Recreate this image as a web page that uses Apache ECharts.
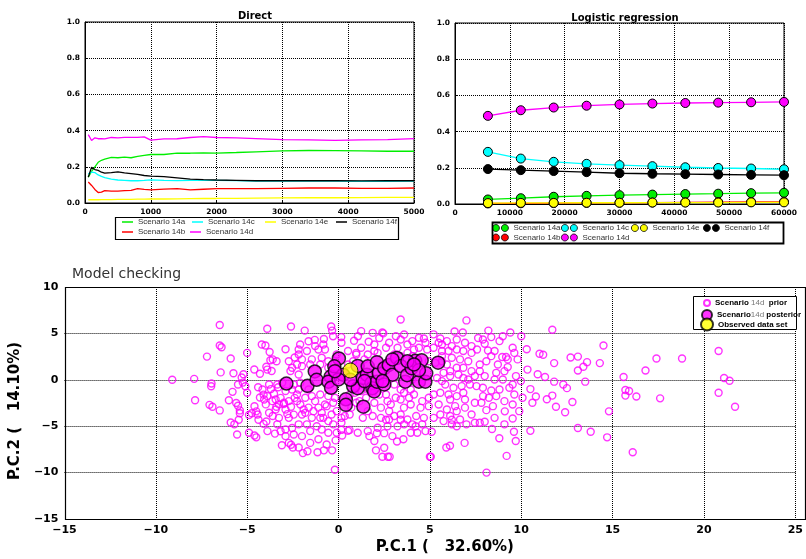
<!DOCTYPE html>
<html><head><meta charset="utf-8">
<script src="https://cdn.jsdelivr.net/npm/echarts@6/dist/echarts.min.js"></script>
<style>html,body{margin:0;padding:0;background:#fff}#c{width:806px;height:559px}</style>
</head><body><div id="c"></div>
<script>
// ---------- Direct ----------
const directX = [50,100,150,200,250,300,400,500,600,700,800,900,1000,1200,1400,1600,1800,2000,2300,2600,3000,3400,3800,4200,4600,5000];
const direct14a = [0.143,0.175,0.200,0.225,0.236,0.242,0.252,0.250,0.253,0.250,0.258,0.263,0.268,0.268,0.275,0.275,0.277,0.276,0.279,0.283,0.288,0.290,0.289,0.288,0.286,0.286];
const direct14b = [0.116,0.097,0.075,0.058,0.060,0.068,0.066,0.066,0.068,0.070,0.079,0.075,0.073,0.077,0.079,0.073,0.076,0.079,0.079,0.079,0.081,0.083,0.083,0.081,0.081,0.083];
const direct14c = [0.161,0.171,0.168,0.155,0.147,0.140,0.132,0.127,0.125,0.123,0.123,0.125,0.128,0.125,0.124,0.125,0.125,0.125,0.124,0.121,0.121,0.121,0.121,0.119,0.119,0.121];
const direct14d = [0.378,0.345,0.360,0.355,0.356,0.354,0.362,0.360,0.363,0.363,0.363,0.365,0.347,0.354,0.355,0.362,0.367,0.362,0.360,0.356,0.350,0.349,0.346,0.349,0.350,0.356];
const direct14e = [0.018,0.018,0.018,0.018,0.019,0.019,0.019,0.020,0.020,0.020,0.021,0.021,0.022,0.022,0.023,0.024,0.025,0.025,0.026,0.027,0.028,0.029,0.029,0.030,0.031,0.031];
const direct14f = [0.143,0.198,0.185,0.180,0.170,0.165,0.168,0.172,0.166,0.162,0.158,0.152,0.149,0.146,0.139,0.132,0.129,0.127,0.125,0.123,0.123,0.123,0.123,0.122,0.123,0.123];
// ---------- Logistic regression ----------
const logX = [6000,12000,18000,24000,30000,36000,42000,48000,54000,60000];
const log14a = [0.025,0.032,0.040,0.045,0.049,0.052,0.055,0.057,0.060,0.062];
const log14b = [0.003,0.004,0.005,0.006,0.007,0.008,0.009,0.010,0.011,0.012];
const log14c = [0.288,0.251,0.233,0.222,0.215,0.209,0.203,0.199,0.196,0.192];
const log14d = [0.487,0.518,0.533,0.543,0.550,0.555,0.558,0.560,0.562,0.564];
const log14e = [0.005,0.006,0.006,0.007,0.007,0.008,0.008,0.008,0.009,0.009];
const log14f = [0.193,0.187,0.182,0.176,0.170,0.167,0.165,0.163,0.161,0.159];
const scenarioNames = ['Scenario 14a','Scenario 14b','Scenario 14c','Scenario 14d','Scenario 14e','Scenario 14f'];
// ---------- Model checking ----------
const priorPts = [
[7.0,6.4],[6.35,5.2],[6.8,5.1],[8.2,5.3],[9.4,5.1],[10.0,4.7],[11.7,5.4],[10.3,3.3],[11.0,2.8],[11.2,2.7],[11.8,1.8],[12.7,2.4],[13.1,2.5],[13.6,1.9],[14.5,3.7],[14.3,1.8],[13.4,1.4],[13.1,1.0],[10.9,0.6],[11.3,0.3],[11.8,-0.2],[12.3,-0.5],[12.5,-0.9],[13.5,-0.2],[10.5,-1.0],[10.8,-1.8],[11.4,-2.1],[11.7,-1.7],[11.9,-2.9],[12.4,-3.5],[12.8,-2.4],[14.8,-3.4],[13.1,-5.2],[13.8,-5.6],[10.5,-5.5],[14.7,-6.2],[15.6,0.3],[15.7,-1.1],[15.9,-1.2],[15.7,-1.7],[16.3,-1.8],[16.8,1.0],[17.4,2.3],[17.6,-2.0],[18.8,2.3],[20.8,3.1],[21.1,0.2],[21.4,-0.1],[20.8,-1.4],[21.7,-2.9],[16.1,-7.8],[8.1,-10.0],[9.2,-8.2],[8.8,-6.3],[5.05,-8.3],[6.9,-6.8],[5.9,-7.3],[6.1,-7.1],[9.7,-6.6],[9.6,-5.6],[8.4,-5.3],[9.1,-3.4],
[-9.1,0.0],[-7.9,0.1],[-7.85,-2.2],[-7.2,2.5],[-6.95,-0.4],[-6.97,-0.7],[-7.06,-2.7],[-6.9,-2.9],[-6.5,-3.3],[-6.5,5.9],[-6.5,3.7],[-6.4,3.5],[-6.45,0.8],[-5.9,2.3],[-5.75,0.7],[-6.0,-2.2],[-5.9,-4.6],[-5.7,-4.8],[-5.55,-5.9],[-5.6,-2.5],[-5.5,-2.8],[-5.4,-3.6],[-5.4,-3.3],[-5.8,-1.3],[-5.3,0.25],[-5.2,0.6],[-5.0,2.9],[-5.0,-1.4],[-4.9,-5.7],[-4.6,-6.0],[-4.5,-6.2],[-4.9,-3.8],[-4.75,-3.6],[-4.4,-0.8],[-4.3,-1.9],[-4.5,-3.4],[-4.2,3.8],[-4.0,3.7],[-3.9,5.5],[-4.3,0.65],[-3.95,1.4],[-3.9,1.1],[-4.1,-4.75],[-3.95,-4.5],[-3.6,2.2],[-3.1,-7.05],[-2.6,-7.0],[-2.5,-7.3],[-2.9,3.3],[-2.6,5.75],[-1.95,-7.9],[-1.7,-7.7],[-1.15,-7.8],[-0.8,-7.6],[-0.35,-7.6],[-0.2,-9.7],[-1.85,5.3],[-1.3,4.3],[-0.8,4.4],[-0.35,5.3],[-0.4,5.75],[-0.3,4.7],[0.15,4.6],[0.85,4.2],[1.65,4.1],[2.4,5.1],[2.45,5.0],[3.4,6.5],[0.2,-6.0],[0.15,-5.4],[0.6,-5.4],[1.05,-5.7],[2.05,-7.6],[2.4,-8.3],[2.7,-8.3],[2.8,-8.3],[3.2,-6.65],[3.55,-6.4],[5.0,-8.3],[3.4,-4.3],[4.25,-3.9],[5.1,-5.6],[2.1,-5.75],[2.5,-5.75],[2.6,-4.3],[6.2,-4.3],
[-3.77,3.0],[-3.39,2.0],[-3.73,2.1],[-3.66,0.95],[-2.54,1.3],[-2.72,2.0],[-2.4,2.4],[-2.63,0.95],[-5.24,-0.3],[-5.5,-0.5],[-5.1,-0.7],[-4.16,-1.05],[-3.9,-1.75],[-3.53,-1.5],[-3.17,-1.95],[-2.9,-1.2],[-2.54,-1.05],[-3.62,-2.3],[-3.98,-2.65],[-3.26,-2.65],[-2.72,-2.3],[-2.4,-1.95],[-4.6,-2.85],[-3.8,-3.55],[-3.44,-3.2],[-2.9,-3.2],[-2.45,-3.75],[-4.38,-4.3],[-3.26,-4.1],[-2.72,-4.1],[-5.46,-4.3],[-3.48,-5.8],[-3.17,-5.55],[-2.9,-5.35],[-2.54,-5.2],[-2.72,-6.8],[-3.8,-0.5],[-2.45,-0.5],[-3.7,-1.0],[-3.3,-0.8],[-4.1,-1.6],[-3.4,-2.9],[-3.0,-2.6],[-2.6,-2.9],[-3.6,-3.9],[-2.8,-3.7],
[0.16,4.0],[-1.64,4.15],[-2.1,3.8],[-1.1,3.27],[-0.74,3.27],[-1.73,3.1],[-2.18,2.73],[-1.46,2.2],[-0.92,2.37],[-0.56,2.0],[0.52,3.1],[0.8,2.0],[-2.0,1.47],[-2.18,0.57],[-1.82,-1.94],[-2.09,-2.66],[-1.46,-1.76],[-1.0,-1.58],[-0.56,-1.76],[-0.2,-1.94],[-1.64,-3.0],[-1.1,-3.0],[-0.65,-2.84],[-0.1,-3.38],[-2.0,-3.74],[-1.46,-4.1],[-1.0,-4.1],[-0.56,-4.45],[-1.73,-4.8],[-1.19,-5.0],[-0.56,-5.7],[-0.1,-5.7],[-2.0,-6.07],[-1.55,-6.8],[-1.1,-6.4],[-0.65,-6.97],[-0.16,-6.53],[-2.18,-7.3],[0.52,-5.5],[0.61,-3.74],[0.34,-3.9],[0.7,-3.0],[-2.09,-0.32],[-2.18,-1.04],[-1.64,-1.04],[0.88,-1.4],[0.61,-1.58],[0.97,-2.48],[-0.74,-2.66],[-1.28,-2.3],[-2.27,-1.58],[-0.29,-2.48],[-0.92,-3.56],[0.16,-4.1],[-0.38,-3.74],[-1.82,-3.56],[0.52,1.65],[0.97,2.73],[-2.0,2.2],[-2.27,1.65],
[2.23,4.5],[1.24,3.45],[1.96,3.8],[2.77,4.0],[3.4,4.35],[3.77,3.8],[4.04,4.17],[3.23,3.45],[3.77,2.9],[4.13,3.27],[3.05,2.73],[3.4,-2.12],[3.86,-1.94],[3.13,-1.94],[2.68,-2.3],[1.96,-2.48],[2.32,-3.0],[1.15,-2.3],[1.87,-3.9],[1.33,-4.1],[3.05,-3.9],[3.4,-3.74],[3.77,-4.27],[4.04,-4.8],[3.23,-5.0],[2.68,-5.0],[2.14,-5.17],[1.6,-5.53],[1.96,-6.6],[2.5,-7.33],[2.23,-1.58],[2.6,-1.58],[3.95,-2.66],[0.97,-0.86],[1.6,-1.04],[3.4,-1.04],[3.95,-1.04],[0.97,2.9],[1.6,2.73],[2.14,2.9],[4.04,0.04],[3.05,-0.5],[4.13,-1.58],[3.58,-1.4],[1.24,-1.22],[1.87,-1.4],[2.86,-2.66],[3.58,-3.0],
[5.2,4.9],[4.67,4.45],[5.57,4.45],[5.48,4.0],[5.93,4.17],[6.47,4.35],[6.92,4.0],[4.4,3.45],[4.85,3.27],[5.2,3.45],[5.66,3.1],[6.02,3.1],[6.47,3.27],[7.28,2.9],[6.2,2.37],[6.65,2.2],[7.1,2.0],[5.93,1.65],[6.47,1.3],[7.28,0.93],[5.75,0.75],[6.11,0.4],[6.83,0.2],[5.39,0.2],[5.84,-0.5],[6.29,-0.86],[6.74,-0.68],[7.19,-0.5],[5.57,-1.4],[6.02,-1.58],[6.47,-1.76],[6.92,-2.12],[4.94,-1.94],[4.49,-3.0],[4.94,-2.84],[5.48,-2.66],[5.93,-3.2],[6.38,-2.84],[6.92,-3.0],[7.28,-3.74],[5.57,-3.74],[6.11,-3.9],[6.65,-4.27],[4.67,-4.1],[4.22,-5.0],[4.58,-4.8],[6.47,-5.0],[7.0,-4.8],[4.94,2.0],[5.66,2.0],
[7.64,4.5],[7.9,4.35],[8.36,4.6],[8.99,4.7],[8.0,3.88],[7.58,3.27],[8.18,3.16],[8.81,4.17],[9.53,3.45],[9.62,2.9],[9.8,2.2],[9.17,2.45],[8.96,2.45],[8.36,2.55],[9.26,1.37],[10.34,1.1],[7.73,0.93],[8.63,0.75],[9.08,0.93],[9.71,0.4],[7.46,0.4],[8.0,0.4],[8.54,0.04],[9.53,-0.5],[9.98,-0.14],[7.55,-0.68],[7.9,-0.86],[8.36,-1.15],[8.23,-1.94],[8.63,-1.76],[9.62,-1.58],[10.61,-2.48],[7.46,-2.48],[7.82,-2.48],[8.45,-2.84],[9.53,-2.66],[8.09,-3.27],[9.53,-4.17],[7.46,-4.63],[7.73,-4.63],[8.0,-4.52],
[-1.28,3.63],[-0.83,3.8],[-2.18,3.27],[-1.55,1.65],[-1.0,1.65],[-0.56,1.3],[-0.1,2.73],[-2.27,-2.3],[-1.91,-3.2],[-1.37,-3.38],[-0.83,-4.1],[-0.29,-4.8],[-1.55,-5.53],[-0.92,-5.35],[0.16,-4.63],[-2.18,-4.8],
[1.24,5.24],[1.06,4.7],[1.87,5.06],[3.14,4.7],[3.59,4.88],[2.6,3.45],[1.96,3.1],[1.42,2.2],[3.4,2.55],[4.04,2.55],[1.51,-1.94],[2.77,-3.38],[1.6,-3.38],[2.32,-4.1],[2.77,-4.27],[3.59,-4.8],[3.95,-5.7],[1.69,-6.07],[2.95,-6.07],
[4.4,4.53],[4.76,4.0],[5.66,3.8],[6.2,3.63],[7.28,3.63],[6.83,3.1],[5.66,2.55],[5.3,1.83],[6.83,1.3],[6.11,0.93],[6.56,0.57],[7.1,0.04],[5.66,-0.14],[6.83,-1.4],[6.11,-2.12],[5.21,-1.58],[4.58,-2.3],[6.47,-3.38],[5.21,-4.1],[5.75,-4.45],[6.2,-4.8],[4.31,-5.7],[4.76,-5.53],
[-4.61,1.11],[-3.35,-0.5],[-3.08,-0.32],[-3.44,-2.12],[-2.99,-2.48],[-4.07,-2.12],[-4.43,-3.74],[-3.35,-4.8],[-3.89,-5.53],[-2.9,-6.07],[-2.45,-5.9],
[8.54,3.1],[9.26,2.2],[8.72,1.65],[8.09,2.0],[7.73,1.65],[8.99,0.04],[9.35,-0.86],[8.81,-1.04],[7.91,-1.76],[9.08,-2.3],[10.07,-1.94],[9.89,-3.38],[8.54,-4.1],[9.08,-4.8]
];
const posteriorPts = [
[-2.85,-0.4],[-1.7,-0.65],[-1.3,0.9],[-1.2,0.0],[-0.43,0.35],[0.02,2.3],[-0.23,1.45],[-0.55,-0.2],[0.25,0.55],[0.4,-2.1],[0.4,-2.7],[1.36,-2.9],[0.8,-0.7],[1.05,-0.9],[0.65,0.0],[1.05,1.5],[1.33,0.2],[1.55,0.55],[1.6,1.45],[1.8,-0.35],[1.85,-0.9],[1.95,-1.25],[2.1,-0.2],[2.2,0.7],[2.1,1.9],[2.5,1.25],[2.75,1.6],[2.95,0.55],[3.2,2.35],[3.4,1.5],[3.65,-0.2],[3.75,0.5],[4.0,1.25],[4.2,2.05],[4.4,-0.2],[4.75,-0.2],[4.55,2.1],[4.8,0.7],[5.45,1.85],[4.4,1.04],
[-0.41,-0.86],[0.0,0.04],[-0.2,0.93],[1.42,-0.14],[2.95,2.2],[3.77,2.0],[4.13,1.65],[2.5,-0.5],[2.41,-0.14]
];
const observedPts = [[0.65,1.0]];
const pcLabels = {x: 'P.C.1 (   32.60%)', y: 'P.C.2 (   14.10%)'};

const FONT = 'DejaVu Sans';
const LFONT = 'Liberation Sans';
const colors = {a:'#00ee00', b:'#ff0000', c:'#00ffff', d:'#ff00ff', e:'#ffff00', f:'#000000'};
const keys = ['a','b','c','d','e','f'];
const directData = {a:direct14a,b:direct14b,c:direct14c,d:direct14d,e:direct14e,f:direct14f};
const logData = {a:log14a,b:log14b,c:log14c,d:log14d,e:log14e,f:log14f};

function smallAxisLabel(){ return {fontFamily:FONT, fontWeight:'bold', fontSize:7.5, color:'#000', margin:5, formatter:v=>String(v)}; }
const dotted = {show:true, lineStyle:{type:'dotted', color:'#000', width:1}};

const series = [];
keys.forEach((k,i)=>{
  series.push({name:'D:'+scenarioNames[i], type:'line', xAxisIndex:0, yAxisIndex:0, symbol:'none',
    data: directX.map((x,j)=>[x, directData[k][j]]), lineStyle:{color:colors[k], width:1.3}, itemStyle:{color:colors[k]}, animation:false, z:3});
});
const logOrder = ['a','b','c','f','d','e'];
logOrder.forEach(k=>{
  const i = keys.indexOf(k);
  series.push({name:'L:'+scenarioNames[i], type:'line', xAxisIndex:1, yAxisIndex:1, symbol:'circle', symbolSize:9,
    data: logX.map((x,j)=>[x, logData[k][j]]), lineStyle:{color:colors[k], width:1.3},
    itemStyle:{color:colors[k], borderColor:'#000', borderWidth:1}, animation:false, z:3});
});
series.push({name:'prior', type:'scatter', xAxisIndex:2, yAxisIndex:2, symbol:'circle', symbolSize:7, data:priorPts,
  itemStyle:{color:'rgba(0,0,0,0)', borderColor:'#ff00ff', borderWidth:1.4}, animation:false, z:3});
series.push({name:'posterior', type:'scatter', xAxisIndex:2, yAxisIndex:2, symbol:'circle', symbolSize:13, data:posteriorPts,
  itemStyle:{color:'#ff00ff', borderColor:'#000', borderWidth:1.5}, animation:false, z:4});
series.push({name:'observed', type:'scatter', xAxisIndex:2, yAxisIndex:2, symbol:'circle', symbolSize:15, data:observedPts,
  itemStyle:{color:'#ffff00', borderColor:'#000', borderWidth:1}, animation:false, z:5});

// two-circle legend icon ("o-o")
function circ(cx,cy,r){const k=0.5523*r;return `M${cx-r},${cy}C${cx-r},${cy-k} ${cx-k},${cy-r} ${cx},${cy-r}C${cx+k},${cy-r} ${cx+r},${cy-k} ${cx+r},${cy}C${cx+r},${cy+k} ${cx+k},${cy+r} ${cx},${cy+r}C${cx-k},${cy+r} ${cx-r},${cy+k} ${cx-r},${cy}Z`;}
const twoDots = 'path://' + circ(3.5,3.5,3.5) + circ(12.5,3.5,3.5);

const legTxt = {fontFamily:LFONT, fontSize:8, color:'#333'};
function legD(name, left, top){
  const k = name.slice(-1);
  return {data:[{name:'D:'+name, icon:'rect', itemStyle:{color:colors[k], borderWidth:0}}], left:left, top:top, itemWidth:11, itemHeight:1.5, itemGap:0, padding:0,
    selectedMode:false, textStyle:legTxt, formatter:(n)=>n.slice(2)};
}
function legL(name, left, top){
  const k = name.slice(-1);
  return {data:[{name:'L:'+name, icon:twoDots, itemStyle:{color:colors[k], borderColor:'#000', borderWidth:0.8}}], left:left, top:top, itemWidth:16, itemHeight:7, itemGap:0, padding:0,
    selectedMode:false, textStyle:legTxt, formatter:(n)=>n.slice(2)};
}
const legends = [
  legD('Scenario 14a',122,218), legD('Scenario 14c',192,218), legD('Scenario 14e',265,218), legD('Scenario 14f',336,218),
  legD('Scenario 14b',122,228), legD('Scenario 14d',190,228),
  legL('Scenario 14a',492,224), legL('Scenario 14c',561,224), legL('Scenario 14e',631,224), legL('Scenario 14f',703,224),
  legL('Scenario 14b',492,233.5), legL('Scenario 14d',561,233.5)
];
const richLeg = {b:{fontFamily:LFONT, fontWeight:'bold', fontSize:8, color:'#000'}, g:{fontFamily:LFONT, fontSize:8, color:'#777'}};
legends.push({data:[{name:'prior', icon:'circle'}], left:703, top:299, itemWidth:6, itemHeight:6, padding:0, selectedMode:false,
  textStyle:{rich:richLeg}, formatter:()=>'{b|Scenario }{g|14d}{b|  prior}'});
legends.push({data:[{name:'posterior', icon:'circle'}], left:701, top:309, itemWidth:10, itemHeight:10, padding:0, selectedMode:false,
  textStyle:{rich:richLeg}, formatter:()=>'{b|Scenario}{g|14d}{b| posterior}'});
legends.push({data:[{name:'observed', icon:'circle'}], left:700, top:317.5, itemWidth:12, itemHeight:12, padding:0, selectedMode:false,
  textStyle:{rich:richLeg}, formatter:()=>'{b|Observed data set}'});

const minus = v => String(v).replace('-', '\u2212');
const bigLabel = {fontFamily:FONT, fontWeight:'bold', fontSize:11, color:'#000', margin:6, formatter:minus};

const option = {
  backgroundColor:'#fff',
  animation:false,
  title:[
    {text:'Direct', left:250, top:6, textAlign:'center', textStyle:{fontFamily:FONT, fontWeight:'bold', fontSize:10, color:'#000'}},
    {text:'Logistic regression', left:620, top:8, textAlign:'center', textStyle:{fontFamily:FONT, fontWeight:'bold', fontSize:10, color:'#000'}},
    {text:'Model checking', left:67, top:262, textStyle:{fontFamily:FONT, fontWeight:'normal', fontSize:14, color:'#333'}}
  ],
  legend: legends,
  grid:[
    {left:85, top:22, width:329, height:181, show:true, borderColor:'#000', borderWidth:1},
    {left:455, top:23, width:329, height:181, show:true, borderColor:'#000', borderWidth:1},
    {left:56, top:287, width:740, height:232, show:false}
  ],
  xAxis:[
    {type:'value', gridIndex:0, min:0, max:5000, interval:1000, axisLine:{show:true, lineStyle:{color:'#000'}}, axisTick:{show:true, inside:true, length:3, lineStyle:{color:'#000'}}, axisLabel:smallAxisLabel(), splitLine:dotted},
    {type:'value', gridIndex:1, min:0, max:60000, interval:10000, axisLine:{show:true, lineStyle:{color:'#000'}}, axisTick:{show:true, inside:true, length:3, lineStyle:{color:'#000'}}, axisLabel:smallAxisLabel(), splitLine:dotted},
    {type:'value', gridIndex:2, min:-15, max:25, interval:5, axisLine:{show:false}, axisTick:{show:false}, axisLabel:bigLabel,
      splitLine:{show:true, showMinLine:false, lineStyle:{type:'dotted', color:'#000', width:1}},
      name:pcLabels.x, nameLocation:'middle', nameGap:21, nameTextStyle:{fontFamily:FONT, fontWeight:'bold', fontSize:15, color:'#000', padding:[0,0,0,30]}}
  ],
  yAxis:[
    {type:'value', gridIndex:0, min:0, max:1, interval:0.2, axisLine:{show:true, lineStyle:{color:'#000'}}, axisTick:{show:true, inside:true, length:3, lineStyle:{color:'#000'}}, axisLabel:Object.assign(smallAxisLabel(),{formatter:v=>v.toFixed(1)}), splitLine:dotted},
    {type:'value', gridIndex:1, min:0, max:1, interval:0.2, axisLine:{show:true, lineStyle:{color:'#000'}}, axisTick:{show:true, inside:true, length:3, lineStyle:{color:'#000'}}, axisLabel:Object.assign(smallAxisLabel(),{formatter:v=>v.toFixed(1)}), splitLine:dotted},
    {type:'value', gridIndex:2, min:-15, max:10, interval:5, axisLine:{show:false}, axisTick:{show:false}, axisLabel:bigLabel,
      splitLine:{show:true, showMinLine:false, showMaxLine:false, lineStyle:{type:'dotted', color:'#000', width:1}},
      name:pcLabels.y, nameLocation:'middle', nameGap:25, nameRotate:90, nameTextStyle:{fontFamily:FONT, fontWeight:'bold', fontSize:15, color:'#000', padding:[0,16,0,0]}}
  ],
  graphic:[
    {type:'rect', shape:{x:65.5, y:287.5, width:740, height:232}, style:{fill:null, stroke:'#000', lineWidth:1.2}, z:10, silent:true},
    {type:'rect', shape:{x:115.5, y:217.5, width:283, height:22}, style:{fill:null, stroke:'#000', lineWidth:1.2}, z:10, silent:true},
    {type:'rect', shape:{x:492.5, y:222.5, width:291, height:21}, style:{fill:null, stroke:'#000', lineWidth:1.8}, z:10, silent:true},
    {type:'rect', shape:{x:693.5, y:296.5, width:103, height:33}, style:{fill:'#fff', stroke:'#000', lineWidth:1}, z:1, silent:true}
  ],
  series: series
};
const chart = echarts.init(document.getElementById('c'), null, {renderer:'canvas'});
chart.setOption(option);
</script></body></html>
